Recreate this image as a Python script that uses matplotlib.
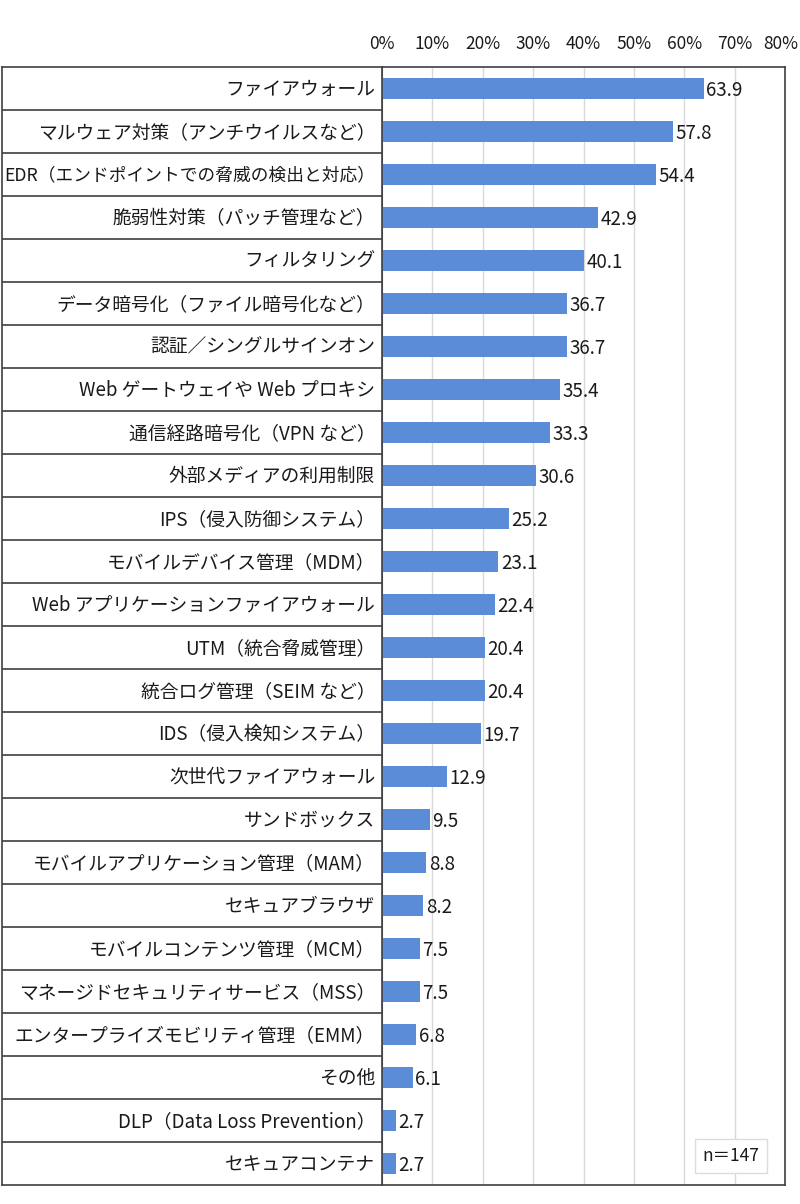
import matplotlib.pyplot as plt
from matplotlib.transforms import ScaledTranslation

plt.rcParams["font.family"] = ["Noto Sans CJK JP", "DejaVu Sans"]

CATEGORIES = [
    "ファイアウォール",
    "マルウェア対策（アンチウイルスなど）",
    "EDR（エンドポイントでの脅威の検出と対応）",
    "脆弱性対策（パッチ管理など）",
    "フィルタリング",
    "データ暗号化（ファイル暗号化など）",
    "認証／シングルサインオン",
    "Web ゲートウェイや Web プロキシ",
    "通信経路暗号化（VPN など）",
    "外部メディアの利用制限",
    "IPS（侵入防御システム）",
    "モバイルデバイス管理（MDM）",
    "Web アプリケーションファイアウォール",
    "UTM（統合脅威管理）",
    "統合ログ管理（SEIM など）",
    "IDS（侵入検知システム）",
    "次世代ファイアウォール",
    "サンドボックス",
    "モバイルアプリケーション管理（MAM）",
    "セキュアブラウザ",
    "モバイルコンテンツ管理（MCM）",
    "マネージドセキュリティサービス（MSS）",
    "エンタープライズモビリティ管理（EMM）",
    "その他",
    "DLP（Data Loss Prevention）",
    "セキュアコンテナ",
]
VALUES = [63.9, 57.8, 54.4, 42.9, 40.1, 36.7, 36.7, 35.4, 33.3, 30.6, 25.2, 23.1,
          22.4, 20.4, 20.4, 19.7, 12.9, 9.5, 8.8, 8.2, 7.5, 7.5, 6.8, 6.1, 2.7, 2.7]
TICKS = [0, 10, 20, 30, 40, 50, 60, 70, 80]
TICK_LABELS = [f"{t}%" for t in TICKS]
NOTE = "n＝147"

BAR = "#5b8cd7"
LINE = "#404040"
GRID = "#d9d9d9"
INK = "#1a1a1a"

W, H = 800, 1204
fig = plt.figure(figsize=(W / 100, H / 100), dpi=100)
fig.set_facecolor("white")

top, bottom = 67, 1185
left_lab, axis_x, right = 2, 382, 785
n = len(CATEGORIES)

ax = fig.add_axes([axis_x / W, 1 - bottom / H, (right - axis_x) / W, (bottom - top) / H])
lab = fig.add_axes([left_lab / W, 1 - bottom / H, (axis_x - left_lab) / W, (bottom - top) / H])

ys = list(range(n))
ax.barh(ys, VALUES, height=0.5, color=BAR, zorder=3)
ax.set_ylim(n - 0.5, -0.5)
ax.set_xlim(0, 80)
ax.set_xticks(TICKS)
ax.set_xticklabels(TICK_LABELS, fontsize=12.5, color=INK)
ax.xaxis.tick_top()
ax.tick_params(axis="x", length=0, pad=10)
ax.set_yticks([])
ax.grid(axis="x", color=GRID, linewidth=1, zorder=0)
for side in ax.spines.values():
    side.set_color(LINE)
    side.set_linewidth(1.2)
# keep the last tick label inside the canvas
last = ax.get_xticklabels()[-1]
last.set_transform(last.get_transform() + ScaledTranslation(-4 / 100, 0, fig.dpi_scale_trans))

for y, v in zip(ys, VALUES):
    ax.text(v + 0.5, y + 0.05, f"{v:.1f}", va="center", ha="left", fontsize=13.5, color=INK, zorder=4)

ax.text(0.866, 0.026, NOTE, transform=ax.transAxes, ha="center", va="center", fontsize=12.5,
        color=INK, zorder=5,
        bbox=dict(boxstyle="square,pad=0.45", facecolor="white", edgecolor="#dcdcdc", linewidth=1))

lab.set_ylim(n - 0.5, -0.5)
lab.set_xlim(0, 1)
lab.set_xticks([])
lab.set_yticks([])
for side in lab.spines.values():
    side.set_color(LINE)
    side.set_linewidth(1.2)
for i in range(1, n):
    lab.axhline(i - 0.5, color=LINE, linewidth=1.2)

renderer = fig.canvas.get_renderer()
max_w = axis_x - left_lab - 10
for y, c in zip(ys, CATEGORIES):
    t = lab.text(0.982, y + 0.02, c, ha="right", va="center", fontsize=13.5, color=INK)
    w = t.get_window_extent(renderer).width
    if w > max_w:
        t.set_fontsize(13.5 * max_w / w)

fig.savefig("out.png", dpi=100, facecolor="white")
